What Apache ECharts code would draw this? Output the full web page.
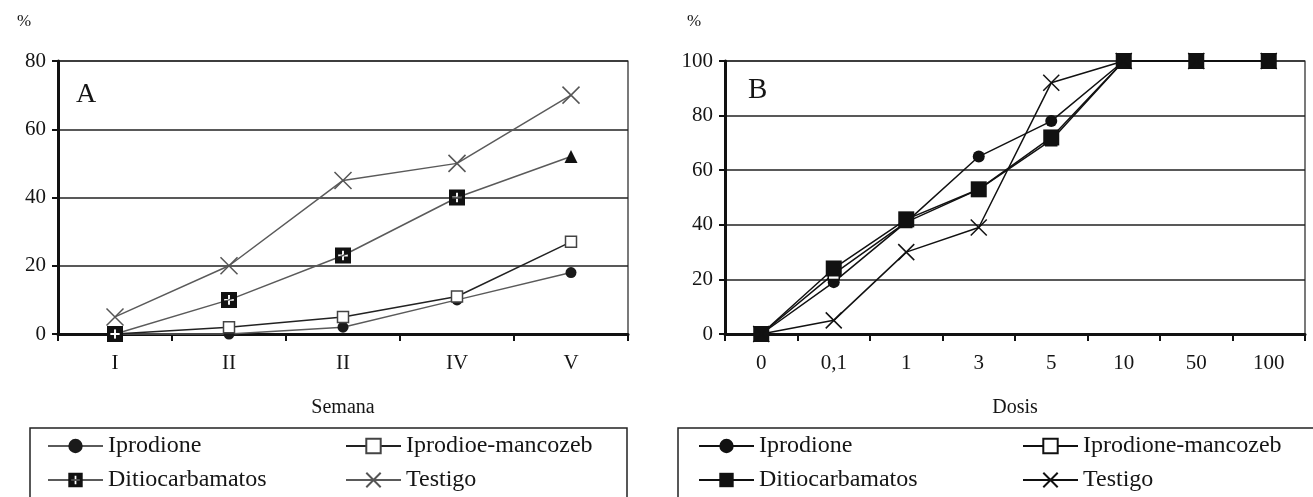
<!DOCTYPE html>
<html><head><meta charset="utf-8">
<script src="https://cdn.jsdelivr.net/npm/echarts@6/dist/echarts.min.js"></script>
<style>
html,body{margin:0;padding:0;background:#fff;width:1313px;height:497px;overflow:hidden;}
#a{position:absolute;left:0;top:0;width:656px;height:497px;}
#b{position:absolute;left:656px;top:0;width:657px;height:497px;}
</style></head>
<body><div id="a"></div><div id="b"></div>
<script>
// ---- Data: chart A (by week) ----
const weeksA = ['I', 'II', 'II', 'IV', 'V'];
const iprodioneA = [0, 0, 2, 10, 18];
const mancozebA = [0, 2, 5, 11, 27];
const ditioA = [0, 10, 23, 40, 52];
const testigoA = [5, 20, 45, 50, 70];
const yTicksA = [0, 20, 40, 60, 80];
const namesA = ['Iprodione', 'Iprodioe-mancozeb', 'Ditiocarbamatos', 'Testigo'];

// ---- Data: chart B (by dose) ----
const dosesB = ['0', '0,1', '1', '3', '5', '10', '50', '100'];
const iprodioneB = [0, 19, 41, 65, 78, 100, 100, 100];
const mancozebB = [0, 22, 41, 53, 71, 100, 100, 100];
const ditioB = [0, 24, 42, 53, 72, 100, 100, 100];
const testigoB = [0, 5, 30, 39, 92, 100, 100, 100];
const yTicksB = [0, 20, 40, 60, 80, 100];
const namesB = ['Iprodione', 'Iprodione-mancozeb', 'Ditiocarbamatos', 'Testigo'];

const FONT = '"Liberation Serif", "DejaVu Serif", serif';
const TXT = '#151515';
const plusSquare = 'path://M0,0H10V10H0Z M4.4,2V4.4H2V5.6H4.4V8H5.6V5.6H8V4.4H5.6V2Z';
const crossSym = 'path://M0,0L10,10M10,0L0,10';

function baseAxes(cats, yTicks, left, width) {
  return {
    grid: {left: left, top: 61, width: width, height: 273, show: true, borderColor: '#222', borderWidth: 1.2, containLabel: false},
    xAxis: {
      type: 'category', data: cats.map((c, i) => i), boundaryGap: true,
      axisLine: {lineStyle: {color: '#111', width: 3}},
      axisTick: {show: true, inside: false, length: 7, lineStyle: {color: '#111', width: 2}},
      axisLabel: {formatter: (v, i) => cats[i], color: TXT, fontFamily: FONT, fontSize: 21, margin: 19},
      splitLine: {show: false},
      nameLocation: 'middle', nameGap: 64,
      nameTextStyle: {color: TXT, fontFamily: FONT, fontSize: 20}
    },
    yAxis: {
      type: 'value', min: yTicks[0], max: yTicks[yTicks.length - 1], interval: yTicks[1] - yTicks[0],
      axisLine: {show: true, lineStyle: {color: '#111', width: 3}},
      axisTick: {show: true, inside: false, length: 6, lineStyle: {color: '#111', width: 2}},
      axisLabel: {color: TXT, fontFamily: FONT, fontSize: 21, margin: 12},
      splitLine: {show: true, lineStyle: {color: '#222', width: 1.5}}
    }
  };
}

function legends(names, x1, x2) {
  const common = {
    orient: 'vertical', top: 434, height: 120, width: 300, padding: 0,
    itemWidth: 55, itemHeight: 18, itemGap: 10,
    textStyle: {color: TXT, fontFamily: FONT, fontSize: 24, lineHeight: 24},
    selectedMode: false
  };
  return [
    Object.assign({}, common, {left: x1, data: [names[0], names[2]]}),
    Object.assign({}, common, {left: x2, data: [names[1], names[3]]})
  ];
}

// ---- Chart A ----
const chartA = echarts.init(document.getElementById('a'), null, {renderer: 'canvas'});
const axA = baseAxes(weeksA, yTicksA, 58, 570);
axA.xAxis.name = 'Semana';
const lineGray = '#5a5a5a';
chartA.setOption({
  backgroundColor: '#fff',
  animation: false,
  grid: axA.grid, xAxis: axA.xAxis, yAxis: axA.yAxis,
  legend: legends(namesA, 47, 345),
  graphic: [
    {type: 'rect', shape: {x: 30, y: 428, width: 597, height: 80}, style: {fill: 'none', stroke: '#222', lineWidth: 1.5}},
    {type: 'text', left: 17, top: 13, style: {text: '%', font: '17px ' + FONT, fill: TXT}},
    {type: 'text', left: 76, top: 81, style: {text: 'A', font: '28px ' + FONT, fill: TXT}}
  ],
  series: [
    {name: namesA[0], type: 'line', data: iprodioneA, symbol: 'circle', symbolSize: 11, clip: false,
     lineStyle: {color: lineGray, width: 1.5}, itemStyle: {color: '#1a1a1a'}},
    {name: namesA[1], type: 'line', data: mancozebA, symbol: 'rect', symbolSize: 11, clip: false,
     lineStyle: {color: '#222', width: 1.5}, itemStyle: {color: '#fff', borderColor: '#444', borderWidth: 1.5}},
    {name: namesA[2], type: 'line', clip: false,
     data: ditioA.map((v, i) => i === ditioA.length - 1 ? {value: v, symbol: 'triangle', symbolSize: 13} : v),
     symbol: plusSquare, symbolSize: 16,
     lineStyle: {color: lineGray, width: 1.5}, itemStyle: {color: '#111'}},
    {name: namesA[3], type: 'line', data: testigoA, symbol: crossSym, symbolSize: 17, clip: false,
     lineStyle: {color: lineGray, width: 1.5}, itemStyle: {color: 'none', borderColor: '#555', borderWidth: 1.5}}
  ]
});

// ---- Chart B ----
const chartB = echarts.init(document.getElementById('b'), null, {renderer: 'canvas'});
const axB = baseAxes(dosesB, yTicksB, 69, 580);
axB.xAxis.name = 'Dosis';
chartB.setOption({
  backgroundColor: '#fff',
  animation: false,
  grid: axB.grid, xAxis: axB.xAxis, yAxis: axB.yAxis,
  legend: legends(namesB, 42, 366),
  graphic: [
    {type: 'rect', shape: {x: 22, y: 428, width: 700, height: 80}, style: {fill: 'none', stroke: '#222', lineWidth: 1.5}},
    {type: 'text', left: 31, top: 13, style: {text: '%', font: '17px ' + FONT, fill: TXT}},
    {type: 'text', left: 92, top: 76, style: {text: 'B', font: '29px ' + FONT, fill: TXT}}
  ],
  series: [
    {name: namesB[0], type: 'line', data: iprodioneB, symbol: 'circle', symbolSize: 12, clip: false,
     lineStyle: {color: '#111', width: 1.5}, itemStyle: {color: '#111'}},
    {name: namesB[1], type: 'line', data: mancozebB, symbol: 'rect', symbolSize: 11, clip: false,
     lineStyle: {color: '#111', width: 1.5}, itemStyle: {color: '#fff', borderColor: '#111', borderWidth: 1.5}},
    {name: namesB[2], type: 'line', data: ditioB, symbol: 'rect', symbolSize: 16, clip: false,
     lineStyle: {color: '#111', width: 1.5}, itemStyle: {color: '#111'}},
    {name: namesB[3], type: 'line', data: testigoB, symbol: crossSym, symbolSize: 16, clip: false,
     lineStyle: {color: '#111', width: 1.5}, itemStyle: {color: 'none', borderColor: '#111', borderWidth: 1.5}}
  ]
});
</script></body></html>
